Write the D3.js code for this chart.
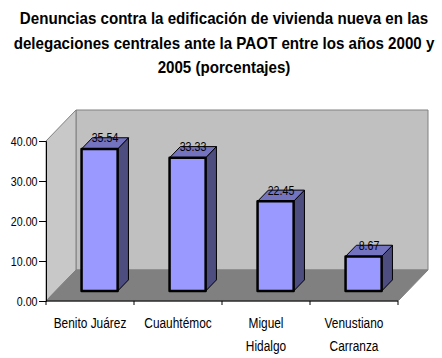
<!DOCTYPE html>
<html>
<head>
<meta charset="utf-8">
<script src="https://cdn.jsdelivr.net/npm/d3@7"></script>
<style>
  body { margin: 0; background: #fff; }
  svg text { font-family: "Liberation Sans", Arial, sans-serif; fill: #000; }
</style>
</head>
<body>
<div id="chart"></div>
<script>
// data
var categories = ["Benito Juárez", "Cuauhtémoc", "Miguel Hidalgo", "Venustiano Carranza"];
var catLines = [["Benito Juárez"], ["Cuauhtémoc"], ["Miguel", "Hidalgo"], ["Venustiano", "Carranza"]];
var values = [35.54, 33.33, 22.45, 8.67];
var yTicks = [0, 10, 20, 30, 40];
var titleLines = [
  "Denuncias contra la edificación de vivienda nueva en las",
  "delegaciones centrales ante la PAOT entre los años 2000 y",
  "2005 (porcentajes)"
];

var width = 442, height = 358;
var depthX = 30, depthY = 31;   // 3d offset of the back wall
var z0 = 0.32, z1 = 0.68;       // bar position in depth
var narrow = 0.82;              // squeeze Liberation Sans into an Arial Narrow look

var svg = d3.select("#chart").append("svg")
  .attr("width", width)
  .attr("height", height);

// places a squeezed text at (px, py)
function put(sel, px, py, k) {
  sel.attr("transform", function(d, i) {
    return "translate(" + px(d, i) + "," + py(d, i) + ") scale(" + (k || narrow) + ",1)";
  });
}

// title
svg.append("g").selectAll("text")
  .data(titleLines)
  .enter().append("text")
    .attr("text-anchor", "middle")
    .style("font-weight", "bold")
    .style("font-size", "17px")
    .text(function(d) { return d; })
    .call(put, function() { return 224; }, function(d, i) { return 24 + i * 24.5; }, 0.89);

// scales
var x = d3.scaleBand()
  .domain(categories)
  .range([46, 398]);
var y = d3.scaleLinear()
  .domain([0, 40])
  .range([301, 141]);

var x0 = x.range()[0], x1 = x.range()[1];
var yb = y(0), yt = y(40);

function pts(a) { return a.map(function(p) { return p.join(","); }).join(" "); }

// walls and floor
svg.append("polygon")
  .attr("points", pts([[x0 + depthX, yt - depthY], [x1 + depthX, yt - depthY], [x1 + depthX, yb - depthY], [x0 + depthX, yb - depthY]]))
  .attr("fill", "#c0c0c0").attr("stroke", "#808080");
svg.append("polygon")
  .attr("points", pts([[x0, yt], [x0 + depthX, yt - depthY], [x0 + depthX, yb - depthY], [x0, yb]]))
  .attr("fill", "#c8c8c8").attr("stroke", "#808080");
svg.append("polygon")
  .attr("points", pts([[x0, yb], [x0 + depthX, yb - depthY], [x1 + depthX, yb - depthY], [x1, yb]]))
  .attr("fill", "#808080").attr("stroke", "#808080");

// bars
var barW = x.bandwidth() * 0.41;
var bars = svg.append("g").selectAll("g")
  .data(values)
  .enter().append("g");

function face(d, i, which) {
  var bx = x(categories[i]) + (x.bandwidth() - barW) / 2;
  var fx = bx + depthX * z0, fy0 = yb - depthY * z0, fy1 = y(d) - depthY * z0;
  var dx = depthX * (z1 - z0), dy = depthY * (z1 - z0);
  if (which === "front") return pts([[fx, fy1], [fx + barW, fy1], [fx + barW, fy0], [fx, fy0]]);
  if (which === "top") return pts([[fx, fy1], [fx + dx, fy1 - dy], [fx + barW + dx, fy1 - dy], [fx + barW, fy1]]);
  return pts([[fx + barW, fy1], [fx + barW + dx, fy1 - dy], [fx + barW + dx, fy0 - dy], [fx + barW, fy0]]);
}

bars.append("polygon")
  .attr("points", function(d, i) { return face(d, i, "side"); })
  .attr("fill", "#4d4d80").attr("stroke", "#000").attr("stroke-width", 1).attr("stroke-linejoin", "round");
bars.append("polygon")
  .attr("points", function(d, i) { return face(d, i, "top"); })
  .attr("fill", "#7373bf").attr("stroke", "#000").attr("stroke-width", 1).attr("stroke-linejoin", "round");
bars.append("polygon")
  .attr("points", function(d, i) { return face(d, i, "front"); })
  .attr("fill", "#9999ff").attr("stroke", "#000").attr("stroke-width", 2.5).attr("stroke-linejoin", "round");

// value labels on the top face
bars.append("text")
  .attr("text-anchor", "middle")
  .style("font-size", "13px")
  .text(function(d) { return d3.format(".2f")(d); })
  .call(put,
    function(d, i) { return x(categories[i]) + x.bandwidth() / 2 + depthX * 0.5; },
    function(d) { return y(d) - depthY * 0.5 - 1; });

// y axis
var yAxis = svg.append("g")
  .attr("transform", "translate(" + x0 + ",0)")
  .call(d3.axisLeft(y).tickValues(yTicks).tickFormat(d3.format(".2f")).tickSize(7));
yAxis.select(".domain").attr("stroke", "#000");
yAxis.selectAll(".tick line").attr("stroke", "#000");
yAxis.selectAll("text")
  .style("font-size", "13px").style("font-family", null)
  .attr("x", null).attr("dy", "0.35em")
  .attr("transform", "translate(-8.5,0) scale(" + narrow + ",1)");

// x axis
var xAxis = svg.append("g")
  .attr("transform", "translate(0," + yb + ")");
xAxis.append("line")
  .attr("x1", x0).attr("x2", x1)
  .attr("stroke", "#000");
xAxis.selectAll(".tk")
  .data(categories.map(function(c) { return x(c); }).concat([x1]))
  .enter().append("line")
    .attr("x1", function(d) { return d; }).attr("x2", function(d) { return d; })
    .attr("y1", 0).attr("y2", 4)
    .attr("stroke", "#000");

var labels = xAxis.selectAll(".lab")
  .data(catLines)
  .enter().append("text")
    .attr("text-anchor", "middle")
    .style("font-size", "14.5px")
    .call(put, function(d, i) { return x(categories[i]) + x.bandwidth() / 2; }, function() { return 27; });
labels.selectAll("tspan")
  .data(function(d) { return d; })
  .enter().append("tspan")
    .attr("x", 0)
    .attr("dy", function(d, i) { return i === 0 ? 0 : 23.5; })
    .text(function(d) { return d; });
</script>
</body>
</html>
